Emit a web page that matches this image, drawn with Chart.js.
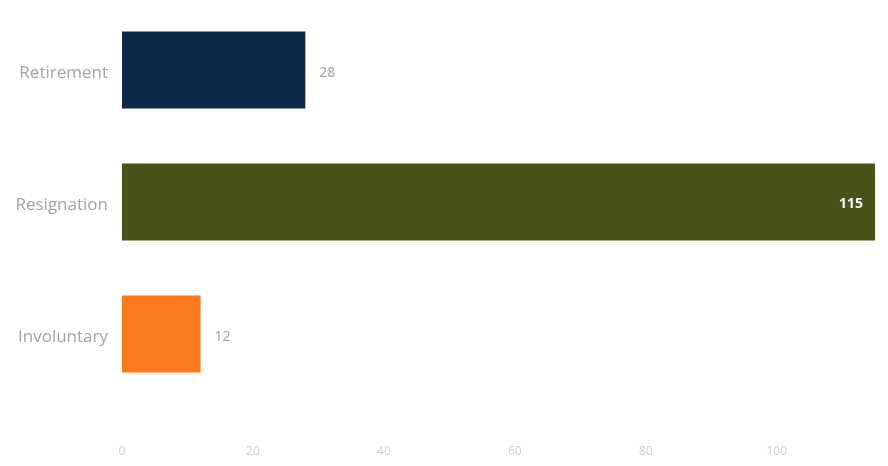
<!DOCTYPE html>
<html>
<head>
<meta charset="utf-8">
<script src="https://cdn.jsdelivr.net/npm/chart.js@4"></script>
<style>
  html, body { margin: 0; padding: 0; background: #ffffff; }
  #wrap { width: 888px; height: 466px; position: relative; }
</style>
</head>
<body>
<div id="wrap"><canvas id="c"></canvas></div>
<script>
// ── Data ──
const categories = ["Retirement", "Resignation", "Involuntary"];
const counts     = [28, 115, 12];
const barColors  = ["#0f2a48", "#4a5219", "#fb7a1e"];
const xTicks     = [0, 20, 40, 60, 80, 100];

// value labels: outside for short bars, inside (white, bold) for the long one
const valueLabels = {
  id: "valueLabels",
  afterDatasetsDraw(chart) {
    const ctx = chart.ctx;
    const meta = chart.getDatasetMeta(0);
    ctx.save();
    ctx.textBaseline = "middle";
    meta.data.forEach((bar, i) => {
      const v = counts[i];
      if (v > 100) {
        ctx.font = "bold 14px 'Open Sans', sans-serif";
        ctx.fillStyle = "#ffffff";
        ctx.textAlign = "right";
        ctx.fillText(v, bar.x - 12, bar.y + 2);
      } else {
        ctx.font = "14px 'Open Sans', sans-serif";
        ctx.fillStyle = "#a0a0a0";
        ctx.textAlign = "left";
        ctx.fillText(v, bar.x + 14, bar.y + 3);
      }
    });
    ctx.restore();
  }
};

new Chart(document.getElementById("c"), {
  type: "bar",
  data: {
    labels: categories,
    datasets: [{
      data: counts,
      backgroundColor: barColors,
      borderWidth: 0,
      categoryPercentage: 1,
      barPercentage: 0.585
    }]
  },
  options: {
    indexAxis: "y",
    responsive: true,
    maintainAspectRatio: false,
    animation: false,
    layout: { padding: 0 },
    plugins: { legend: { display: false }, tooltip: { enabled: false } },
    scales: {
      x: {
        min: 0, max: 115,
        afterBuildTicks: (axis) => { axis.ticks = xTicks.map(v => ({ value: v })); },
        afterFit: (axis) => { axis.height = 66; axis.paddingLeft = 0; axis.paddingRight = 13; },
        grid: { display: false },
        border: { display: false },
        ticks: { color: "#cfcfcf", padding: 36, font: { family: "'Open Sans', sans-serif", size: 12 } }
      },
      y: {
        afterFit: (axis) => { axis.width = 122; axis.paddingTop = 4; axis.paddingBottom = 0; },
        grid: { display: false },
        border: { display: false },
        ticks: { color: "#a3a3a3", padding: 6, labelOffset: 3, font: { family: "'Open Sans', sans-serif", size: 17 } }
      }
    }
  },
  plugins: [valueLabels]
});
</script>
</body>
</html>
